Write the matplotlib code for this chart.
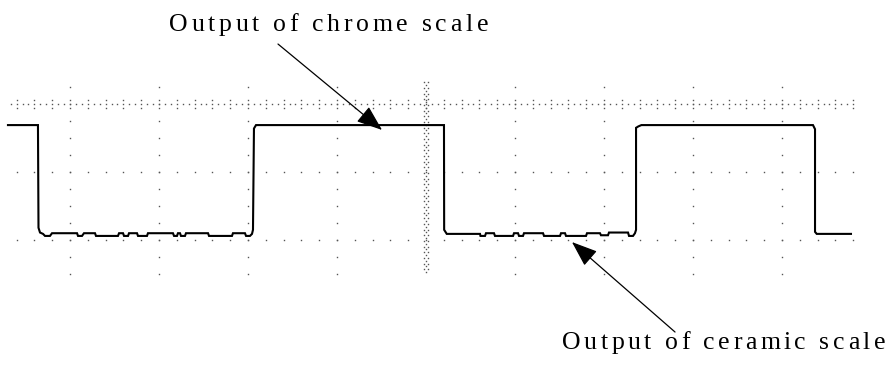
import numpy as np
import matplotlib
matplotlib.use("Agg")
import matplotlib.pyplot as plt
from matplotlib.font_manager import FontProperties, findfont, get_font

# scope trace, time and volts in screen divisions
trace_t = [-4.697, -4.360, -4.354, -4.337, -4.303, -4.281, -4.225, -4.202, -3.921, -3.910,
           -3.865, -3.843, -3.719, -3.708, -3.461, -3.449, -3.404, -3.393, -3.348, -3.337,
           -3.247, -3.236, -3.135, -3.124, -2.843, -2.831, -2.798, -2.787, -2.764, -2.753,
           -2.708, -2.697, -2.449, -2.438, -2.180, -2.169, -2.034, -2.022, -1.978, -1.955,
           -1.944, -1.933, -1.910,
           0.202, 0.204, 0.233, 0.607, 0.612, 0.663, 0.674, 0.764, 0.775, 0.978,
           0.989, 1.034, 1.045, 1.090, 1.101, 1.315, 1.326, 1.506, 1.517, 1.562,
           1.573, 1.798, 1.809, 1.955, 1.966, 2.045, 2.056, 2.270, 2.281, 2.326,
           2.348, 2.360, 2.360, 2.385, 2.420,
           4.348, 4.371, 4.371, 4.390, 4.775]
trace_v = [-0.31, -0.31, -1.82, -1.89, -1.91, -1.94, -1.94, -1.90, -1.90, -1.94,
           -1.94, -1.90, -1.90, -1.94, -1.94, -1.90, -1.90, -1.94, -1.94, -1.90,
           -1.90, -1.94, -1.94, -1.90, -1.90, -1.94, -1.94, -1.90, -1.90, -1.94,
           -1.94, -1.90, -1.90, -1.94, -1.94, -1.90, -1.90, -1.94, -1.94, -1.91,
           -1.85, -0.36, -0.31,
           -0.31, -1.85, -1.91, -1.91, -1.94, -1.94, -1.90, -1.90, -1.94, -1.94,
           -1.90, -1.90, -1.94, -1.94, -1.90, -1.90, -1.94, -1.94, -1.90, -1.90,
           -1.94, -1.94, -1.90, -1.90, -1.93, -1.93, -1.89, -1.89, -1.94, -1.94,
           -1.90, -1.85, -0.35, -0.33, -0.31,
           -0.31, -0.37, -1.88, -1.91, -1.91]

labels = ["Output of chrome scale", "Output of ceramic scale"]
# arrow tail -> head, in divisions
arrow_tail = [(-1.663, 0.882), (2.798, -3.353)]
arrow_head = [(-0.494, -0.382), (1.640, -2.030)]
# text baseline y and left/right extent
text_x = [(-2.888, 0.697), (1.528, 5.157)]
text_y = [1.074, -3.603]
text_size = [18.5, 18.5]

DPI = 100
fig = plt.figure(figsize=(8.94, 3.65), dpi=DPI)
ax = fig.add_axes([0, 0, 1, 1])
ax.set_xlim(-4.7865, 5.2584)
ax.set_ylim(-3.838, 1.5294)
ax.axis("off")

dot = dict(ls="none", marker="s", ms=1.0, mew=0, color="#555555")

# graticule
minor_x = np.arange(-4.6, 4.81, 0.2)
for gy in (-1, -2):
    ax.plot(minor_x, np.full_like(minor_x, gy), **dot)
dense_x = np.arange(-4.667, 4.85, 0.2 / 3)
ax.plot(dense_x, np.zeros_like(dense_x), **dot)
ax.plot(minor_x, np.full_like(minor_x, 0.066), **dot)
ax.plot(minor_x, np.full_like(minor_x, -0.066), **dot)
col_y = np.arange(0.25, -2.51, -0.25)
for gx in (-4, -3, -2, -1, 1, 2, 3, 4):
    ax.plot(np.full_like(col_y, gx), col_y, **dot)
center_y = np.arange(0.28, -2.52, -0.25 / 3)
ax.plot(np.zeros_like(center_y), center_y, **dot)
side_y = np.arange(0.28, -2.52, -0.25 / 3)
ax.plot(np.full_like(side_y, -0.028), side_y + 0.04, **dot)
ax.plot(np.full_like(side_y, 0.028), side_y + 0.04, **dot)

ax.plot(trace_t, trace_v, color="black", lw=1.5, solid_joinstyle="miter")

for (t0, v0), (t1, v1) in zip(arrow_tail, arrow_head):
    ax.annotate("", xy=(t1, v1), xytext=(t0, v0),
                arrowprops=dict(arrowstyle="-|>,head_length=16,head_width=6",
                                mutation_scale=1, lw=0.9, color="black",
                                shrinkA=0, shrinkB=0))


def spaced_text(ax, s, x0, x1, y, size):
    fp = FontProperties(family="Liberation Serif", size=size)
    font = get_font(findfont(fp))
    font.set_size(size, DPI)
    adv = []
    for ch in s:
        g = font.load_char(ord(ch))
        adv.append(g.linearHoriAdvance / 65536)
    left, base = ax.transData.transform((x0, y))
    right, _ = ax.transData.transform((x1, y))
    track = (right - left - sum(adv)) / (len(s) - 1)
    px = left
    for ch, a in zip(s, adv):
        if ch != " ":
            fig.text(px, base, ch, transform=None, fontproperties=fp,
                     ha="left", va="baseline", color="black")
        px += a + track


for s, (x0, x1), y, size in zip(labels, text_x, text_y, text_size):
    spaced_text(ax, s, x0, x1, y, size)

fig.savefig("out.png", dpi=DPI)
